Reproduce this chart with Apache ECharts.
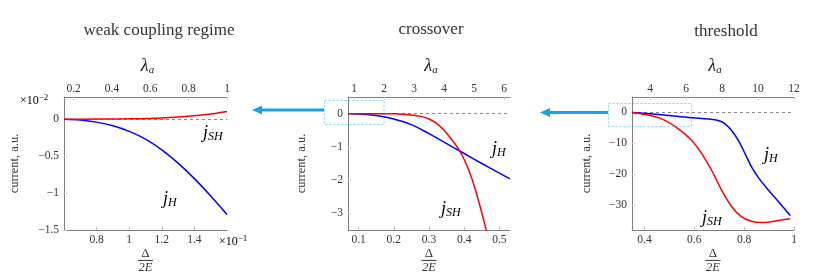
<!DOCTYPE html>
<html><head><meta charset="utf-8">
<script src="https://cdn.jsdelivr.net/npm/echarts@6/dist/echarts.min.js"></script>
<style>html,body{margin:0;padding:0;background:#fff}#c{width:831px;height:274px}</style>
</head><body><div id="c"></div>
<script>
// ---- data ----
// panel 1: weak coupling regime (x in units of 1e-1, y in units of 1e-2)
var weakJH  = [[0.6,0],[0.7,-0.01],[0.8,-0.04],[0.9,-0.09],[1.0,-0.165],[1.1,-0.27],[1.2,-0.415],[1.3,-0.595],[1.4,-0.805],[1.5,-1.04],[1.6,-1.29]];
var weakJSH = [[0.6,0],[0.8,0.001],[1.0,0.005],[1.2,0.017],[1.4,0.045],[1.5,0.07],[1.6,0.105]];
// panel 2: crossover
var crossJH  = [[0.07,0],[0.1,-0.01],[0.15,-0.055],[0.2,-0.16],[0.25,-0.33],[0.3,-0.6],[0.35,-0.9],[0.4,-1.2],[0.45,-1.5],[0.5,-1.79],[0.53,-1.96]];
var crossJSH = [[0.07,0],[0.15,0],[0.2,-0.005],[0.25,-0.04],[0.28,-0.09],[0.3,-0.16],[0.32,-0.28],[0.34,-0.47],[0.36,-0.72],[0.38,-1.0],[0.4,-1.38],[0.42,-1.9],[0.44,-2.6],[0.46,-3.4],[0.48,-4.3]];
// panel 3: threshold
var thrJH  = [[0.35,0],[0.455,-0.64],[0.589,-1.7],[0.656,-2.15],[0.696,-2.6],[0.722,-3.6],[0.749,-5.77],[0.776,-8.97],[0.803,-13.2],[0.829,-17.5],[0.856,-20.9],[0.896,-25],[0.936,-28.7],[0.985,-33.3]];
var thrJSH = [[0.35,0],[0.429,-1.07],[0.482,-2.56],[0.535,-5.2],[0.589,-8.97],[0.629,-13.2],[0.669,-18.6],[0.709,-25],[0.749,-30.3],[0.789,-33.7],[0.829,-35.2],[0.869,-35.6],[0.909,-35.3],[0.949,-34.8],[0.985,-34.4]];
// tick labels
var weakXTicks = [0.8,1,1.2,1.4];
var weakLTicks = [0.2,0.4,0.6,0.8,1];
var weakYTicks = [0,-0.5,-1,-1.5];
var crossXTicks = [0.1,0.2,0.3,0.4,0.5];
var crossLTicks = [1,2,3,4,5,6];
var crossYTicks = [0,-1,-2,-3];
var thrXTicks = [0.4,0.6,0.8,1];
var thrLTicks = [4,6,8,10,12];
var thrYTicks = [0,-10,-20,-30];
var titles = ['weak coupling regime','crossover','threshold'];

var SERIF = '"Liberation Serif", "DejaVu Serif", serif';
var TXT = '#333';
var AX = '#808080';
function fmt(v){ return String(v).replace('-', '\u2212'); }

var grids = [
  {left:64, top:97, width:163, height:133, outerBoundsMode:'none', containLabel:false},
  {left:348, top:97, width:162, height:133, outerBoundsMode:'none', containLabel:false},
  {left:632, top:97, width:162, height:133, outerBoundsMode:'none', containLabel:false}
];
var cfg = [
  {x:[0.6,1.6], xt:weakXTicks, l:[0.15,1], lt:weakLTicks, y:[-1.5,0.3], yt:weakYTicks, yGap:43},
  {x:[0.07,0.53], xt:crossXTicks, l:[0.8,6.2], lt:crossLTicks, y:[-3.5,0.5], yt:crossYTicks, yGap:40},
  {x:[0.35,1], xt:thrXTicks, l:[3,12], lt:thrLTicks, y:[-38,5], yt:thrYTicks, yGap:39}
];
var xAxes=[], yAxes=[];
cfg.forEach(function(c,i){
  xAxes.push({type:'value', gridIndex:i, position:'bottom', min:c.x[0], max:c.x[1],
    axisLine:{show:true, onZero:false, lineStyle:{color:AX, width:1}},
    axisTick:{show:true, inside:true, length:3, customValues:c.xt, lineStyle:{color:'#bbb'}},
    axisLabel:{customValues:c.xt, formatter:fmt, color:TXT, fontFamily:SERIF, fontSize:11.5, margin:4},
    splitLine:{show:false},
    name:'{n|\u0394}\n{bar|}\n{d|2E}', nameLocation:'middle', nameGap:17,
    nameTextStyle:{rich:{
      n:{fontFamily:SERIF, fontSize:13, color:TXT, lineHeight:11, align:'center'},
      bar:{width:15, height:1, backgroundColor:'#333', lineHeight:3, align:'center'},
      d:{fontFamily:SERIF, fontSize:12.5, fontStyle:'italic', color:TXT, lineHeight:12, align:'center'}
    }}
  });
  xAxes.push({type:'value', gridIndex:i, position:'top', min:c.l[0], max:c.l[1],
    axisLine:{show:true, onZero:false, lineStyle:{color:AX, width:1}},
    axisTick:{show:true, inside:true, length:3, customValues:c.lt, lineStyle:{color:'#ccc'}},
    axisLabel:{customValues:c.lt, formatter:fmt, color:TXT, fontFamily:SERIF, fontSize:11.5, margin:2},
    splitLine:{show:false},
    name:'{l|\u03bb}{s|a}', nameLocation:'middle', nameGap:21,
    nameTextStyle:{rich:{
      l:{fontFamily:SERIF, fontSize:18, fontStyle:'italic', color:'#222', padding:[0,0,0,4]},
      s:{fontFamily:SERIF, fontSize:11, fontStyle:'italic', color:'#222', padding:[9,0,0,0]}
    }}
  });
  yAxes.push({type:'value', gridIndex:i, min:c.y[0], max:c.y[1],
    axisLine:{show:true, onZero:false, lineStyle:{color:AX, width:1}},
    axisTick:{show:true, inside:true, length:3, customValues:c.yt, lineStyle:{color:'#ccc'}},
    axisLabel:{customValues:c.yt, formatter:fmt, color:TXT, fontFamily:SERIF, fontSize:11.5, margin:5},
    splitLine:{show:false},
    name:'current, a.u.', nameLocation:'middle', nameGap:c.yGap, nameRotate:90,
    nameTextStyle:{fontFamily:SERIF, fontSize:12.5, color:TXT}
  });
});

function line(data, color, gi, zero){
  var s = {type:'line', data:data, xAxisIndex:gi*2, yAxisIndex:gi, showSymbol:false, smooth:0.35,
    lineStyle:{color:color, width:1.5}, itemStyle:{color:color}, z:3, silent:true};
  if (zero) s.markLine = {silent:true, symbol:'none', label:{show:false},
    lineStyle:{color:'#888', type:[3,3], width:1}, data:[{yAxis:0}], z:1};
  return s;
}
var series = [
  line(weakJH,'#0000ff',0,true), line(weakJSH,'#ff0000',0,false),
  line(crossJH,'#0000ff',1,true), line(crossJSH,'#ff0000',1,false),
  line(thrJH,'#0000ff',2,true), line(thrJSH,'#ff0000',2,false)
];

var jRich = {
  j:{fontFamily:SERIF, fontSize:18, fontStyle:'italic', color:'#222'},
  s:{fontFamily:SERIF, fontSize:12, fontStyle:'italic', color:'#222', padding:[8,0,0,0]}
};
function jl(x,y,sub){
  return {type:'text', left:x, top:y, silent:true,
    style:{text:'{j|j}{s|'+sub+'}', rich:jRich}};
}
var CY = '#17a2e2';
var supRich = {a:{fontFamily:SERIF, fontSize:12, color:TXT}, b:{fontFamily:SERIF, fontSize:9, color:TXT, padding:[0,0,7,0]}};
var graphic = [
  {type:'text', left:20, top:93, style:{text:'{a|\u00d710}{b|\u22122}', rich:supRich}},
  {type:'text', left:219, top:234, style:{text:'{a|\u00d710}{b|\u22121}', rich:supRich}},
  jl(203,124,'SH'), jl(163,190,'H'),
  jl(492,140,'H'), jl(441,200,'SH'),
  jl(764,146,'H'), jl(702,209,'SH'),
  {type:'rect', shape:{x:324.5, y:100.5, width:59.5, height:24}, style:{fill:'none', stroke:'#78d2f5', lineWidth:1, lineDash:[2,2]}},
  {type:'rect', shape:{x:608.5, y:103.5, width:83, height:23}, style:{fill:'none', stroke:'#78d2f5', lineWidth:1, lineDash:[2,2]}},
  {type:'line', shape:{x1:324, y1:110, x2:260, y2:110}, style:{stroke:CY, lineWidth:3}},
  {type:'polygon', shape:{points:[[252,110],[262,105.5],[262,114.5]]}, style:{fill:CY}},
  {type:'line', shape:{x1:608, y1:112.5, x2:548, y2:112.5}, style:{stroke:CY, lineWidth:3}},
  {type:'polygon', shape:{points:[[540,112.5],[550,108],[550,117]]}, style:{fill:CY}}
];

var tStyle = {fontFamily:SERIF, fontSize:17, fontWeight:'normal', color:'#333'};
var chart = echarts.init(document.getElementById('c'), null, {renderer:'canvas'});
chart.setOption({
  backgroundColor:'#fff',
  animation:false,
  title:[
    {text:titles[0], left:159, top:22, padding:0, textAlign:'center', textStyle:tStyle},
    {text:titles[1], left:431, top:21, padding:0, textAlign:'center', textStyle:tStyle},
    {text:titles[2], left:726, top:23, padding:0, textAlign:'center', textStyle:tStyle}
  ],
  grid:grids, xAxis:xAxes, yAxis:yAxes, series:series, graphic:graphic
});
</script></body></html>
